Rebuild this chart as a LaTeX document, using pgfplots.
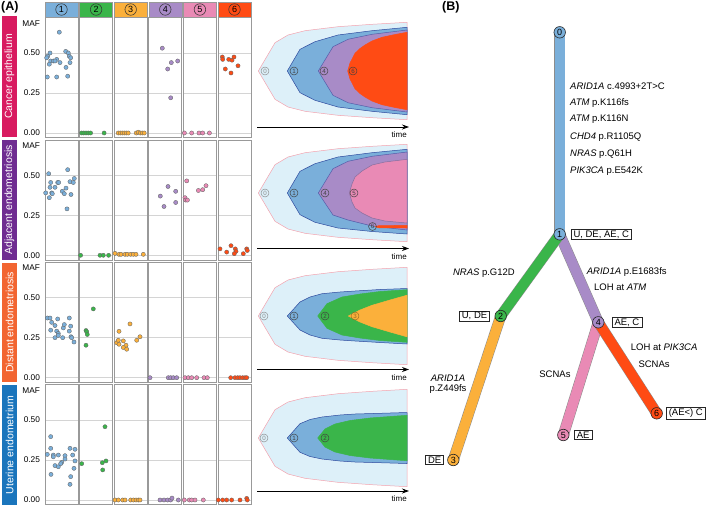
\documentclass[border=0pt]{standalone}
\usepackage{fontspec}
\setmainfont{Liberation Sans}
\usepackage{pgfplots}
\pgfplotsset{compat=1.18}
\usetikzlibrary{arrows.meta}
\definecolor{c0}{HTML}{DDF0F9}
\definecolor{c0e}{HTML}{F3A3AE}
\definecolor{c1}{HTML}{7AAFDA}
\definecolor{c1e}{HTML}{2E4A9E}
\definecolor{c2}{HTML}{3AB54A}
\definecolor{c3}{HTML}{FBB03B}
\definecolor{c4}{HTML}{A88BC7}
\definecolor{c5}{HTML}{E98AB5}
\definecolor{c6}{HTML}{FF4B14}
\definecolor{r1}{HTML}{D81B60}
\definecolor{r2}{HTML}{6F2C91}
\definecolor{r3}{HTML}{F26531}
\definecolor{r4}{HTML}{1A75BC}
\pgfplotsset{
 maf/.style={scale only axis, width=33pt, height=120pt, xmin=0, xmax=33, ymin=-0.03, ymax=0.72,
   anchor=north west, axis line style={draw=black!40, line width=0.7pt}, xtick=\empty,
   ytick={0,0.25,0.5}, yticklabels={}, ymajorgrids, grid style={draw=black!17, line width=0.8pt},
   major tick length=0pt, clip=false, tick label style={font=\fontsize{8.3}{9}\selectfont},
   yticklabel style={xshift=-1.5pt}, /pgf/number format/assume math mode=true},
 mafL/.style={yticklabels={0.00,0.25,0.50}, extra y ticks={0.685}, extra y tick labels={MAF},
   extra y tick style={grid=none, major tick length=0pt}},
 pt/.style={only marks, mark=*, mark size=2.1pt, mark options={fill=#1, draw=black!60, line width=0.35pt}},
 fish/.style={line width=0.5pt, forget plot},
 br/.style={line width=10pt, draw=#1, forget plot},
 bro/.style={line width=11pt, draw=black!45, forget plot},
}
\tikzset{
 hc/.style={circle, draw=black!80, line width=0.55pt, minimum size=11.5pt, inner sep=0pt, font=\fontsize{9}{10}\selectfont},
 fc/.style={circle, draw=#1, line width=0.45pt, minimum size=8pt, inner sep=0pt, text=#1, font=\fontsize{6.2}{7}\selectfont},
 tn/.style={circle, draw=black!85, fill=#1, line width=0.6pt, minimum size=11.5pt, inner sep=0pt, font=\fontsize{9}{10}\selectfont},
 bx/.style={draw=black!85, line width=0.6pt, fill=white, inner xsep=2.5pt, inner ysep=1.3pt, font=\fontsize{9.5}{11}\selectfont},
 tx/.style={font=\fontsize{9.5}{11}\selectfont, inner sep=0pt},
 rb/.style={rotate=90, text=white, font=\fontsize{10.5}{12}\selectfont},
 ta/.style={-{Stealth[length=7pt, width=5pt]}, line width=0.8pt},
}
\begin{document}
\begin{tikzpicture}[x=1pt,y=1pt]
\useasboundingbox (0,0) rectangle (709pt,507pt);
\begin{axis}[at={(0pt,0pt)}, anchor=south west, scale only axis, width=709pt, height=507pt,
  xmin=0, xmax=709, ymin=0, ymax=507, y dir=reverse, axis lines=none, clip=false]
% ---------- labels
\node[anchor=west, font=\bfseries\fontsize{12.5}{14}\selectfont, inner sep=0pt] at (axis cs:1,7) {(A)};
\node[anchor=west, font=\bfseries\fontsize{12.5}{14}\selectfont, inner sep=0pt] at (axis cs:442,7) {(B)};
% ---------- column headers
\draw[fill=c1, draw=black!40] (axis cs:45,2) rectangle (axis cs:78,17);
\draw[fill=c2, draw=black!40] (axis cs:79.6,2) rectangle (axis cs:112.6,17);
\draw[fill=c3, draw=black!40] (axis cs:114.2,2) rectangle (axis cs:147.2,17);
\draw[fill=c4, draw=black!40] (axis cs:148.8,2) rectangle (axis cs:181.8,17);
\draw[fill=c5, draw=black!40] (axis cs:183.4,2) rectangle (axis cs:216.4,17);
\draw[fill=c6, draw=black!40] (axis cs:218,2) rectangle (axis cs:251,17);
\node[hc] at (axis cs:61.5,9.5) {1};
\node[hc] at (axis cs:96.1,9.5) {2};
\node[hc] at (axis cs:130.7,9.5) {3};
\node[hc] at (axis cs:165.3,9.5) {4};
\node[hc] at (axis cs:199.9,9.5) {5};
\node[hc] at (axis cs:234.5,9.5) {6};
% ---------- row bars
\fill[r1] (axis cs:2,16) rectangle (axis cs:17,137);
\fill[r2] (axis cs:2,140) rectangle (axis cs:17,259.5);
\fill[r3] (axis cs:2,262.5) rectangle (axis cs:17,382);
\fill[r4] (axis cs:2,385) rectangle (axis cs:17,505);
\node[rb] at (axis cs:9.5,76.5) {Cancer epithelium};
\node[rb] at (axis cs:9.5,199.7) {Adjacent endometriosis};
\node[rb] at (axis cs:9.5,322.2) {Distant endometriosis};
\node[rb] at (axis cs:9.5,445) {Uterine endometrium};
% ---------- fish 1 (cy=71)
\addplot[fish, fill=c0, draw=c0e] coordinates {(258.3,71)(275,42.7)(288,35)(305,30.7)(338,26.7)(372,24.3)(407,22.3)(407,119.7)(372,117.7)(338,115.3)(305,111.3)(288,107)(275,99.3)(258.3,71)};
\addplot[fish, fill=c1, draw=c1e] coordinates {(287.3,71)(300,49.3)(315,41.7)(338,35)(372,30.7)(407,27.3)(407,114.7)(372,111.3)(338,107)(315,100.3)(300,92.7)(287.3,71)};
\addplot[fish, fill=c4, draw=c1e!70!c4] coordinates {(318.3,71)(333,46.7)(348,39.3)(372,34.3)(407,30)(407,112)(372,107.7)(348,102.7)(333,95.3)(318.3,71)};
\addplot[fish, fill=c6, draw=c6] coordinates {(347.7,71)(350,63)(355,53.3)(360,48.5)(365,45)(372,41)(382,37.3)(395,34.5)(407,32.3)(407,109.7)(395,107.5)(382,104.7)(372,101)(365,97)(360,93.5)(355,88.7)(350,79)(347.7,71)};
\node[fc=black!45] at (axis cs:265,71) {0};
\node[fc=black!75] at (axis cs:294,71) {1};
\node[fc=black!75] at (axis cs:324,71) {4};
\node[fc=black!75] at (axis cs:353,71) {6};
% ---------- fish 2 (cy=193)
\addplot[fish, fill=c0, draw=c0e] coordinates {(258.3,193)(275,164.7)(288,157)(305,152.7)(338,148.7)(372,146.3)(407,144.3)(407,241.7)(372,239.7)(338,237.3)(305,233.3)(288,229)(275,221.3)(258.3,193)};
\addplot[fish, fill=c1, draw=c1e] coordinates {(287.3,193)(300,171.3)(315,163.7)(338,157)(372,152.7)(407,149.3)(407,234)(372,231.5)(338,228)(315,222.3)(300,214.7)(287.3,193)};
\addplot[fish, fill=c4, draw=c1e!70!c4] coordinates {(318.3,193)(333,168.7)(348,161.3)(372,156.3)(407,152)(407,230)(372,226)(348,220)(333,215)(318.3,193)};
\addplot[fish, fill=c5, draw=c4!80!black] coordinates {(349.3,193)(352,184)(355,177)(362,171)(372,165)(385,162)(407,159.3)(407,223)(385,221)(372,218)(362,213)(355,208)(352,202)(349.3,193)};
\addplot[fish, fill=c6, draw=c6] coordinates {(375,226.7)(379,225.6)(407,225.4)(407,228)(379,227.8)(375,226.7)};
\node[fc=black!45] at (axis cs:265,193) {0};
\node[fc=black!75] at (axis cs:294,193) {1};
\node[fc=black!75] at (axis cs:325,193) {4};
\node[fc=black!75] at (axis cs:354,193) {5};
\node[fc=black!75] at (axis cs:372.5,226.5) {6};
% ---------- fish 3 (cy=316)
\addplot[fish, fill=c0, draw=c0e] coordinates {(258.3,316)(275,287.7)(288,280)(305,275.7)(338,271.7)(372,269.3)(407,267.3)(407,364.7)(372,362.7)(338,360.3)(305,356.3)(288,352)(275,344.3)(258.3,316)};
\addplot[fish, fill=c1, draw=c1e] coordinates {(287.3,316)(300,302)(310,297)(322,293.7)(340,292)(355,291)(380,289.5)(407,288.5)(407,344)(380,342.5)(355,341)(340,340)(322,338.3)(310,335)(300,330)(287.3,316)};
\addplot[fish, fill=c2, draw=c2] coordinates {(317.7,316)(327,303.7)(342,297)(360,294)(380,291.5)(407,289.7)(407,342.3)(380,340.5)(360,338)(342,335)(327,328.3)(317.7,316)};
\addplot[fish, fill=c3, draw=c3] coordinates {(348.3,316)(360,310)(372,305.3)(390,300)(407,295.2)(407,336.8)(390,332)(372,326.7)(360,322)(348.3,316)};
\node[fc=black!45] at (axis cs:264,316) {0};
\node[fc=black!75] at (axis cs:294,316) {1};
\node[fc=black!75] at (axis cs:325,316) {2};
\node[fc=c3!60!black] at (axis cs:355,316) {3};
% ---------- fish 4 (cy=438)
\addplot[fish, fill=c0, draw=c0e] coordinates {(258.3,438)(275,409.7)(288,402)(305,397.7)(338,393.7)(372,391.3)(407,389.3)(407,486.7)(372,484.7)(338,482.3)(305,478.3)(288,474)(275,466.3)(258.3,438)};
\addplot[fish, fill=c1, draw=c1e] coordinates {(287.3,438)(300,423.7)(310,419.5)(322,417)(340,415)(355,414)(380,413.3)(407,412.5)(407,463.5)(380,462.7)(355,462)(340,461)(322,459)(310,456.5)(300,452.3)(287.3,438)};
\addplot[fish, fill=c2, draw=c2] coordinates {(317.7,438)(325,429)(335,424)(350,420.5)(370,418)(390,416.5)(407,415.3)(407,460.7)(390,459.5)(370,458)(350,455.5)(335,452)(325,447)(317.7,438)};
\node[fc=black!45] at (axis cs:264,438) {0};
\node[fc=black!75] at (axis cs:294,438) {1};
\node[fc=black!75] at (axis cs:325,438) {2};
% ---------- time arrows
\draw[ta] (axis cs:257,127) -- (axis cs:409,127);
\draw[ta] (axis cs:257,248.5) -- (axis cs:409,248.5);
\draw[ta] (axis cs:257,369.5) -- (axis cs:409,369.5);
\draw[ta] (axis cs:257,491) -- (axis cs:409,491);
\node[anchor=east, inner sep=0pt, font=\fontsize{8}{9}\selectfont] at (axis cs:407,135) {time};
\node[anchor=east, inner sep=0pt, font=\fontsize{8}{9}\selectfont] at (axis cs:407,256.5) {time};
\node[anchor=east, inner sep=0pt, font=\fontsize{8}{9}\selectfont] at (axis cs:407,377.5) {time};
\node[anchor=east, inner sep=0pt, font=\fontsize{8}{9}\selectfont] at (axis cs:407,499) {time};
% ---------- tree
\addplot[bro] coordinates {(559.7,32.3)(559.7,234.3)};
\addplot[br=c1] coordinates {(559.7,32.3)(559.7,234.3)};
\addplot[bro] coordinates {(559.7,234.3)(598.3,322.3)};
\addplot[br=c4] coordinates {(559.7,234.3)(598.3,322.3)};
\addplot[bro] coordinates {(559.7,234.3)(500.7,316)};
\addplot[br=c2] coordinates {(559.7,234.3)(500.7,316)};
\addplot[bro] coordinates {(500.7,316)(453.3,460)};
\addplot[br=c3] coordinates {(500.7,316)(453.3,460)};
\addplot[bro] coordinates {(598.3,322.3)(563.3,435)};
\addplot[br=c5] coordinates {(598.3,322.3)(563.3,435)};
\addplot[bro] coordinates {(598.3,322.3)(656.7,413.3)};
\addplot[br=c6] coordinates {(598.3,322.3)(656.7,413.3)};
\node[tn=c1] at (axis cs:559.7,32.3) {0};
\node[tn=c1] at (axis cs:559.7,234.3) {1};
\node[tn=c2] at (axis cs:500.7,316) {2};
\node[tn=c3] at (axis cs:453.3,460) {3};
\node[tn=c4] at (axis cs:598.3,322.3) {4};
\node[tn=c5] at (axis cs:563.3,435) {5};
\node[tn=c6] at (axis cs:656.7,413.3) {6};
\node[bx, anchor=west] at (axis cs:570.7,234.3) {U, DE, AE, C};
\node[bx, anchor=east] at (axis cs:490,316) {U, DE};
\node[bx, anchor=west] at (axis cs:611.7,322.3) {AE, C};
\node[bx, anchor=east] at (axis cs:444,460) {DE};
\node[bx, anchor=west] at (axis cs:574,435) {AE};
\node[bx, anchor=west] at (axis cs:666,413.3) {(AE<) C};
\node[tx, anchor=west] at (axis cs:570,86) {\textit{ARID1A} c.4993+2T>C};
\node[tx, anchor=west] at (axis cs:570,102.7) {\textit{ATM} p.K116fs};
\node[tx, anchor=west] at (axis cs:570,119.3) {\textit{ATM} p.K116N};
\node[tx, anchor=west] at (axis cs:570,136.7) {\textit{CHD4} p.R1105Q};
\node[tx, anchor=west] at (axis cs:570,154) {\textit{NRAS} p.Q61H};
\node[tx, anchor=west] at (axis cs:570,170.7) {\textit{PIK3CA} p.E542K};
\node[tx, anchor=east] at (axis cs:515,273.3) {\textit{NRAS} p.G12D};
\node[tx, anchor=west] at (axis cs:586.7,271.7) {\textit{ARID1A} p.E1683fs};
\node[tx, anchor=west] at (axis cs:594,287.3) {LOH at \textit{ATM}};
\node[tx, anchor=west] at (axis cs:630.7,347.3) {LOH at \textit{PIK3CA}};
\node[tx, anchor=west] at (axis cs:638.3,364) {SCNAs};
\node[tx, anchor=east] at (axis cs:570.7,374) {SCNAs};
\node[tx] at (axis cs:448,378.3) {\textit{ARID1A}};
\node[tx] at (axis cs:448,389) {p.Z449fs};
\end{axis}
% ================= MAF panels =================
% ---- row 1
\begin{axis}[maf, mafL, at={(45pt,489.2pt)}]
\addplot[pt=c1] coordinates {(14.3,0.63)(2.7,0.48)(5,0.50)(1.7,0.47)(5.7,0.45)(8.3,0.45)(4.3,0.43)(11.7,0.46)(10,0.45)(15,0.44)(20.7,0.51)(23.3,0.50)(24.3,0.48)(25.7,0.47)(25,0.44)(21,0.41)(2.3,0.35)(11.7,0.35)(22.7,0.355)};
\end{axis}
\begin{axis}[maf, at={(79.6pt,489.2pt)}]
\addplot[pt=c2] coordinates {(2,0)(4.2,0)(6.4,0)(8.6,0)(11,0)(24.5,0)};
\end{axis}
\begin{axis}[maf, at={(114.2pt,489.2pt)}]
\addplot[pt=c3] coordinates {(4,0)(6,0)(8,0)(10,0)(12,0)(14,0)(22,0)(24,0.005)(26,0)(28,0)(30,0)};
\end{axis}
\begin{axis}[maf, at={(148.8pt,489.2pt)}]
\addplot[pt=c4] coordinates {(13.5,0.53)(22.5,0.44)(18.9,0.40)(28.9,0.45)(21.9,0.22)};
\end{axis}
\begin{axis}[maf, at={(183.4pt,489.2pt)}]
\addplot[pt=c5] coordinates {(1,0)(8.3,0)(15.6,0)(19.3,0)(26,0)};
\end{axis}
\begin{axis}[maf, at={(218pt,489.2pt)}]
\addplot[pt=c6] coordinates {(4.3,0.475)(4.7,0.46)(10.7,0.46)(14,0.455)(16,0.475)(7.3,0.40)(13,0.375)(20,0.42)};
\end{axis}
% ---- row 2
\begin{axis}[maf, mafL, at={(45pt,366.9pt)}]
\addplot[pt=c1] coordinates {(3.7,0.51)(22.7,0.535)(5.7,0.455)(5,0.425)(10,0.425)(12.7,0.455)(13.7,0.455)(6.7,0.39)(7.3,0.385)(0.7,0.39)(4.3,0.36)(17.3,0.40)(19.3,0.385)(21,0.42)(25,0.46)(28.3,0.455)(29.3,0.48)(26,0.38)(22,0.29)};
\end{axis}
\begin{axis}[maf, at={(79.6pt,366.9pt)}]
\addplot[pt=c2] coordinates {(1,0)(20.4,0)(23.7,0)(29,0)};
\end{axis}
\begin{axis}[maf, at={(114.2pt,366.9pt)}]
\addplot[pt=c3] coordinates {(0.8,0.012)(4.8,0.006)(6.8,0.006)(10.8,0.006)(13.1,0.006)(16.5,0.006)(19.1,0.006)(21.8,0.006)(29.1,0.006)};
\end{axis}
\begin{axis}[maf, at={(148.8pt,366.9pt)}]
\addplot[pt=c4] coordinates {(11.5,0.37)(15.2,0.305)(19.2,0.43)(26.9,0.40)(26.9,0.33)};
\end{axis}
\begin{axis}[maf, at={(183.4pt,366.9pt)}]
\addplot[pt=c5] coordinates {(3.3,0.465)(1.6,0.36)(2.3,0.345)(4,0.345)(15,0.405)(19.3,0.41)(22.6,0.435)};
\end{axis}
\begin{axis}[maf, at={(218pt,366.9pt)}]
\addplot[pt=c6] coordinates {(2,0.04)(8.7,0.02)(13,0.06)(17.3,0.04)(18,0.025)(16.3,0.01)(25.3,0.01)(28.7,0.04)(29.3,0.03)};
\end{axis}
% ---- row 3
\begin{axis}[maf, mafL, at={(45pt,244.5pt)}]
\addplot[pt=c1] coordinates {(2.3,0.373)(5,0.373)(6.7,0.346)(5.7,0.297)(10,0.326)(12.7,0.367)(11.7,0.291)(13.3,0.277)(10,0.25)(17.7,0.25)(18.3,0.311)(19.3,0.332)(24.3,0.373)(25.7,0.322)(24.3,0.291)(26,0.256)(26.7,0.25)(29,0.223)(13.3,0.264)};
\end{axis}
\begin{axis}[maf, at={(79.6pt,244.5pt)}]
\addplot[pt=c2] coordinates {(13.7,0.43)(6.4,0.295)(7.1,0.287)(7.7,0.27)(6.4,0.203)};
\end{axis}
\begin{axis}[maf, at={(114.2pt,244.5pt)}]
\addplot[pt=c3] coordinates {(4.8,0.29)(15.8,0.336)(25.8,0.256)(22.5,0.234)(2.5,0.219)(4.1,0.234)(4.8,0.209)(9.1,0.23)(11.8,0.203)(9.1,0.189)(12.5,0.178)};
\end{axis}
\begin{axis}[maf, at={(148.8pt,244.5pt)}]
\addplot[pt=c4] coordinates {(1.2,0)(19.5,0)(21.9,0)(24.5,0)(27.9,0)};
\end{axis}
\begin{axis}[maf, at={(183.4pt,244.5pt)}]
\addplot[pt=c5] coordinates {(1.6,0)(4.9,0)(8.3,0)(13.3,0)(20.6,0)(23.9,0)};
\end{axis}
\begin{axis}[maf, at={(218pt,244.5pt)}]
\addplot[pt=c6] coordinates {(12.7,0)(17,0)(19.7,0)(22,0)(24.7,0)(27,0)(28.7,0)};
\end{axis}
% ---- row 4
\begin{axis}[maf, mafL, at={(45pt,122.2pt)}]
\addplot[pt=c1] coordinates {(5.7,0.396)(2.3,0.285)(5.7,0.323)(8.3,0.281)(8.3,0.27)(13.3,0.281)(10,0.215)(13.3,0.208)(6,0.16)(16.7,0.235)(15.7,0.227)(20,0.277)(20,0.256)(25,0.323)(27.7,0.281)(30,0.317)(30,0.244)(29,0.198)(25.7,0.146)(25,0.098)};
\end{axis}
\begin{axis}[maf, at={(79.6pt,122.2pt)}]
\addplot[pt=c2] coordinates {(2.1,0.227)(25.4,0.458)(22.7,0.233)(26.4,0.244)(23.1,0.188)};
\end{axis}
\begin{axis}[maf, at={(114.2pt,122.2pt)}]
\addplot[pt=c3] coordinates {(0.8,0)(4.1,0)(8.5,0)(10.8,0)(16.5,0)(19.1,0)(21.8,0)(24.1,0)(25.8,0)};
\end{axis}
\begin{axis}[maf, at={(148.8pt,122.2pt)}]
\addplot[pt=c4] coordinates {(11.2,0)(15.2,0)(18.9,0)(21.9,0)(23.2,0.012)(29.5,0)};
\end{axis}
\begin{axis}[maf, at={(183.4pt,122.2pt)}]
\addplot[pt=c5] coordinates {(0.9,0)(5.9,0)(8.3,0)(11.6,0)(19.9,0)};
\end{axis}
\begin{axis}[maf, at={(218pt,122.2pt)}]
\addplot[pt=c6] coordinates {(0.3,0)(4.7,0)(8.7,0)(13.7,0)(22,0)(28.7,0.01)(29.3,0)};
\end{axis}
\end{tikzpicture}
\end{document}
